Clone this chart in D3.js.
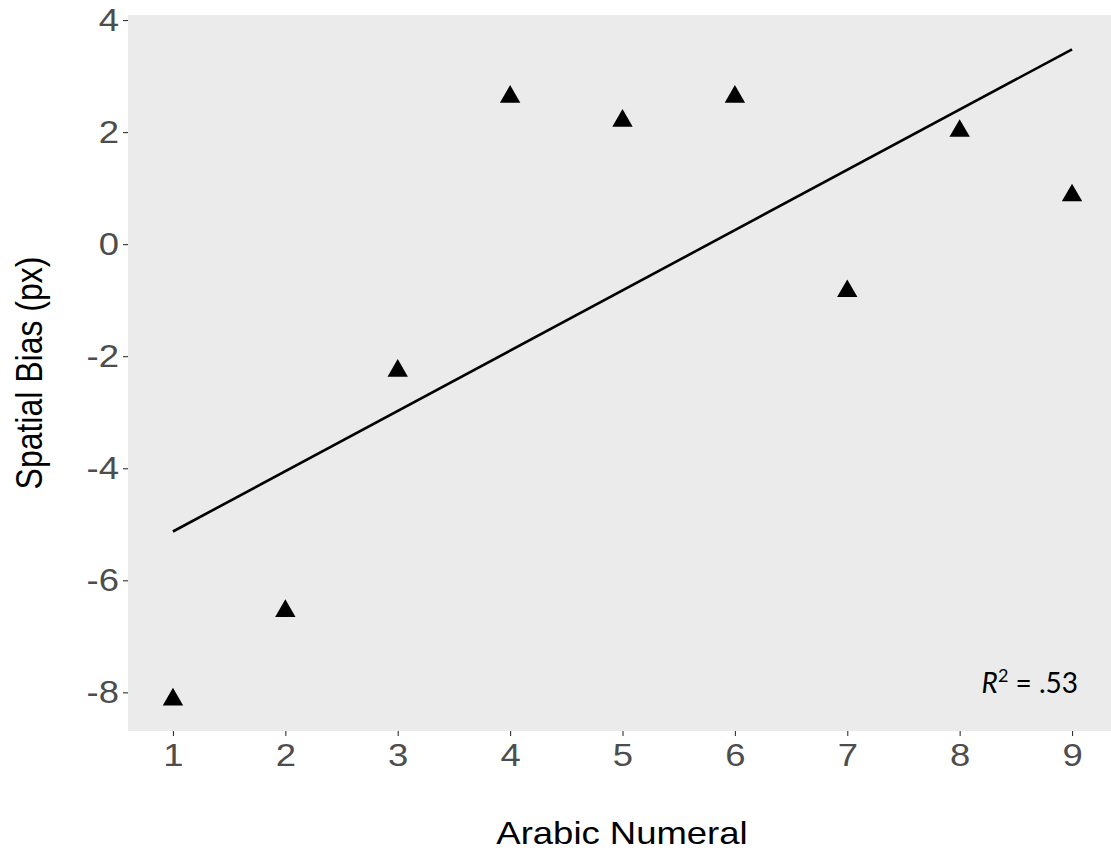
<!DOCTYPE html>
<html>
<head>
<meta charset="utf-8">
<script src="https://cdn.jsdelivr.net/npm/d3@7"></script>
<style>
  body { margin: 0; background: #fff; }
  svg { display: block; }
</style>
</head>
<body>
<div id="chart"></div>
<script>
// data
var numerals = [1, 2, 3, 4, 5, 6, 7, 8, 9];
var bias = [-8.13, -6.55, -2.26, 2.63, 2.20, 2.63, -0.84, 2.02, 0.87];
var xTicks = [1, 2, 3, 4, 5, 6, 7, 8, 9];
var yTicks = [-8, -6, -4, -2, 0, 2, 4];
var r2Label = ".53";

var width = 1111, height = 852;
var stretch = 1.14; // the original image is a bit wider than tall

var svg = d3.select("#chart").append("svg")
    .attr("width", width)
    .attr("height", height);

var x = d3.scaleLinear().domain([0.6, 9.4]).range([128, 1117]);
var y = d3.scaleLinear().domain([-8.69, 4.09]).range([731, 15]);

/* panel background */
svg.append("rect")
    .attr("x", x.range()[0])
    .attr("y", y.range()[1])
    .attr("width", x.range()[1] - x.range()[0])
    .attr("height", y.range()[0] - y.range()[1])
    .attr("fill", "#ebebeb");

/* axes, ggplot style: no domain line, short grey ticks */
var yAxis = svg.append("g")
    .attr("transform", "translate(" + x.range()[0] + ",0)")
    .call(d3.axisLeft(y).tickValues(yTicks).tickSize(5).tickPadding(4)
        .tickFormat(function (d) { return String(d); }));

var xAxis = svg.append("g")
    .attr("transform", "translate(0," + y.range()[0] + ")")
    .call(d3.axisBottom(x).tickValues(xTicks).tickSize(5).tickPadding(7)
        .tickFormat(function (d) { return String(d); }));

[yAxis, xAxis].forEach(function (ax) {
    ax.select(".domain").remove();
    ax.selectAll(".tick line").attr("stroke", "#333").attr("stroke-width", 1.1);
    ax.selectAll(".tick text")
        .attr("fill", "#4d4d4d")
        .style("font-family", "'Liberation Sans', Arial, sans-serif")
        .style("font-size", "32px");
});

// stretch tick labels horizontally like the reference
yAxis.selectAll(".tick text")
    .attr("x", -9 / stretch)
    .attr("transform", "scale(" + stretch + ",1)");
xAxis.selectAll(".tick text")
    .attr("transform", "scale(" + stretch + ",1)");

/* least squares fit line */
var mx = d3.mean(numerals), my = d3.mean(bias);
var sxy = d3.sum(numerals, function (v, i) { return (v - mx) * (bias[i] - my); });
var sxx = d3.sum(numerals, function (v) { return (v - mx) * (v - mx); });
var slope = sxy / sxx, intercept = my - slope * mx;
var ends = d3.extent(numerals);

svg.append("line")
    .attr("x1", x(ends[0]))
    .attr("y1", y(intercept + slope * ends[0]))
    .attr("x2", x(ends[1]))
    .attr("y2", y(intercept + slope * ends[1]))
    .attr("stroke", "#000")
    .attr("stroke-width", 2.6);

/* triangles */
var tri = d3.symbol().type(d3.symbolTriangle).size(180);
svg.append("g").selectAll("path")
    .data(numerals)
    .enter().append("path")
    .attr("d", tri)
    .attr("transform", function (d, i) { return "translate(" + x(d) + "," + y(bias[i]) + ")"; })
    .attr("fill", "#000");

/* axis titles */
svg.append("text")
    .attr("transform", "translate(622,844) scale(" + stretch + ",1)")
    .attr("text-anchor", "middle")
    .style("font-family", "'Liberation Sans', Arial, sans-serif")
    .style("font-size", "32px")
    .attr("fill", "#000")
    .text("Arabic Numeral");

svg.append("text")
    .attr("transform", "translate(42,373) scale(" + stretch + ",1) rotate(-90)")
    .attr("text-anchor", "middle")
    .style("font-family", "'Liberation Sans', Arial, sans-serif")
    .style("font-size", "32px")
    .attr("fill", "#000")
    .text("Spatial Bias (px)");

/* R squared annotation */
var r2 = svg.append("text")
    .attr("transform", "translate(1078,693)")
    .attr("text-anchor", "end")
    .style("font-family", "Lato, 'Open Sans', sans-serif")
    .style("font-size", "28px")
    .attr("fill", "#000");
r2.append("tspan").style("font-style", "italic").text("R");
r2.append("tspan").attr("dy", -11).style("font-size", "18px").text("2");
r2.append("tspan").attr("dy", 11).text(" = " + r2Label);
</script>
</body>
</html>
